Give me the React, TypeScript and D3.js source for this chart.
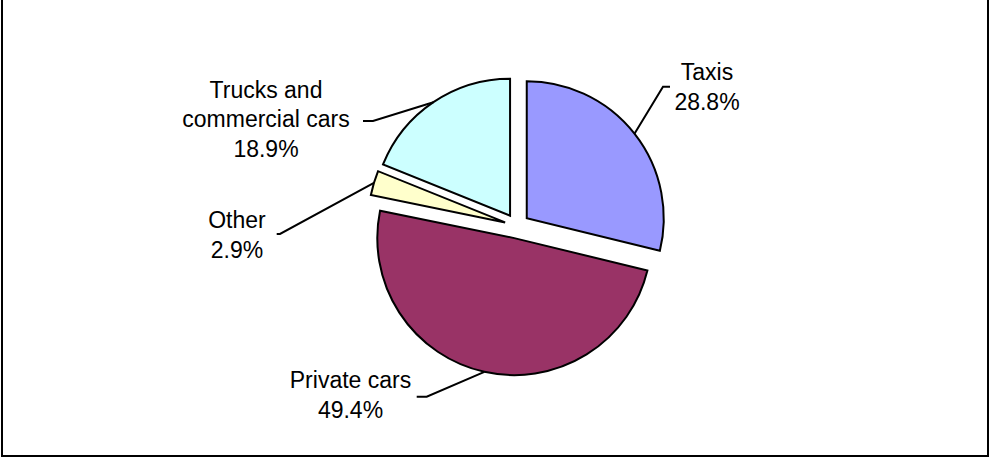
import React from "react";
import * as d3 from "d3";

const categories = ["Taxis", "Private cars", "Other", "Trucks and commercial cars"];
const values = [28.8, 49.4, 2.9, 18.9];
const colors = ["#9999FF", "#993366", "#FFFFCC", "#CCFFFF"];
const labelLines = [["Taxis"], ["Private cars"], ["Other"], ["Trucks and", "commercial cars"]];

// layout of label blocks: [centerX, firstBaseline], elbow point, horizontal tail end
const labelLayout = [
  { x: 707, y: 80, elbow: [663, 86.7], tail: [670, 86.7] },
  { x: 350.5, y: 388.3, elbow: [426.7, 396.7], tail: [416.7, 396.7] },
  { x: 237, y: 228.3, elbow: [280, 234], tail: [276.7, 234] },
  { x: 266, y: 97.7, elbow: [373, 121], tail: [363, 121] },
];

const W = 989;
const H = 459;
const CX = 517;
const CY = 226;
const R = 137;
const EXPLODE = 12.4;
const LINE_H = 29.7;

export default function App() {
  const pie = d3.pie<number>().sort(null).startAngle(0).endAngle(2 * Math.PI);
  const arcs = pie(values);
  const arcGen = d3.arc<d3.PieArcDatum<number>>().innerRadius(0).outerRadius(R);
  const total = d3.sum(values);

  return (
    <svg
      width={W}
      height={H}
      style={{ position: "fixed", left: 0, top: 0, background: "#fff" }}
      fontFamily="'Liberation Sans', Arial, sans-serif"
    >
      <rect x={0} y={0} width={W} height={H} fill="#fff" />
      <rect x={2} y={-10} width={986} height={466} fill="none" stroke="#000" strokeWidth={2} />
      {arcs.map((a, i) => {
        const mid = (a.startAngle + a.endAngle) / 2;
        const ox = CX + EXPLODE * Math.sin(mid);
        const oy = CY - EXPLODE * Math.cos(mid);
        const px = ox + R * Math.sin(mid);
        const py = oy - R * Math.cos(mid);
        const L = labelLayout[i];
        const pct = ((a.data / total) * 100).toFixed(1) + "%";
        const lines = [...labelLines[i], pct];
        return (
          <g key={categories[i]}>
            <path
              d={arcGen(a) || ""}
              transform={`translate(${ox},${oy})`}
              fill={colors[i]}
              stroke="#000"
              strokeWidth={2}
              strokeLinejoin="miter"
            />
            <polyline
              points={`${px},${py} ${L.elbow[0]},${L.elbow[1]} ${L.tail[0]},${L.tail[1]}`}
              fill="none"
              stroke="#000"
              strokeWidth={2}
            />
            <text textAnchor="middle" fontSize={23} fill="#000">
              {lines.map((t, j) => (
                <tspan key={j} x={L.x} y={L.y + j * LINE_H}>
                  {t}
                </tspan>
              ))}
            </text>
          </g>
        );
      })}
    </svg>
  );
}
